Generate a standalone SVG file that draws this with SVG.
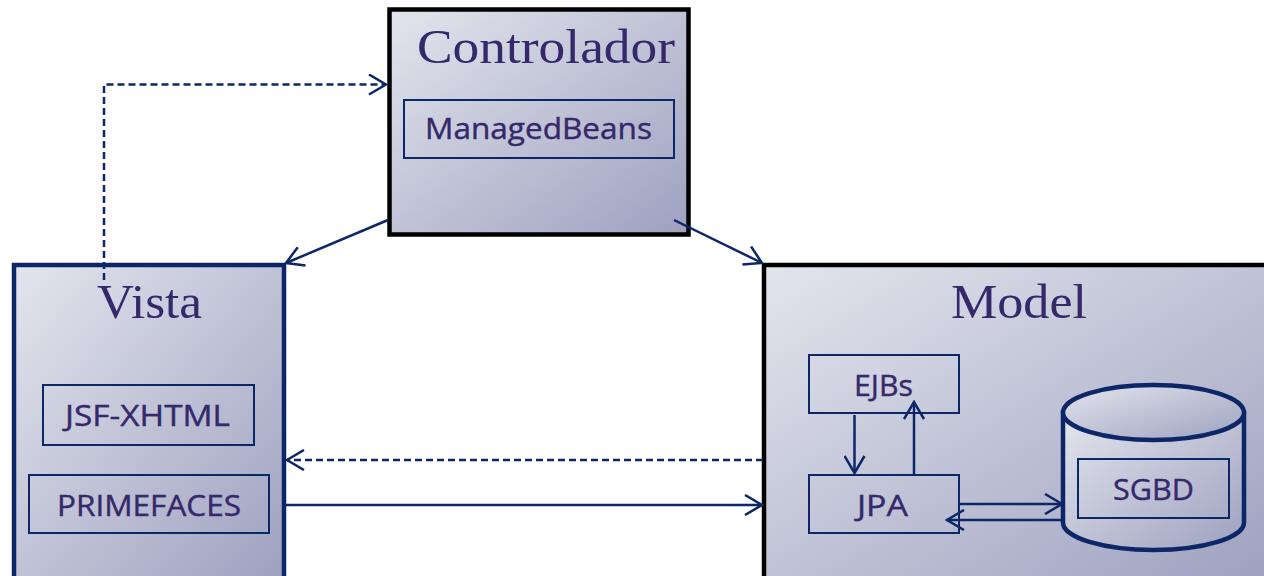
<svg xmlns="http://www.w3.org/2000/svg" width="1264" height="576" viewBox="0 0 1264 576">
<defs>
<linearGradient id="g" x1="0" y1="0" x2="1" y2="1">
<stop offset="0" stop-color="#e3e5ed"/>
<stop offset="1" stop-color="#9da1bf"/>
</linearGradient>
<marker id="ah" viewBox="0 0 20 22" refX="18" refY="11" markerWidth="20" markerHeight="22" markerUnits="userSpaceOnUse" orient="auto">
<path d="M1,1 L18,11 L1,21" fill="none" stroke="#0d2668" stroke-width="2.5"/>
</marker>
<style>
.title{font-family:"Liberation Serif",serif;font-size:48px;fill:#35286b}
.lbl{font-family:"Open Sans","Liberation Sans",sans-serif;font-size:29px;fill:#35286b;stroke:#35286b;stroke-width:0.4}
.inner{fill:none;stroke:#0d2668;stroke-width:2}
.c{fill:none;stroke:#0d2668;stroke-width:2.5}
.d{stroke-dasharray:7,4}
</style>
</defs>
<g id="controlador">
<rect x="389.5" y="9.5" width="299" height="225" fill="url(#g)" stroke="#000" stroke-width="4.5"/>
<text class="title" x="417" y="63" textLength="258" lengthAdjust="spacingAndGlyphs">Controlador</text>
<rect class="inner" x="404" y="100" width="270" height="58"/>
<text class="lbl" x="425" y="139" textLength="227" lengthAdjust="spacingAndGlyphs">ManagedBeans</text>
</g>
<g id="vista">
<rect x="14" y="265" width="270" height="318" fill="url(#g)" stroke="#0d2668" stroke-width="4.5"/>
<text class="title" x="97" y="318" textLength="105" lengthAdjust="spacingAndGlyphs">Vista</text>
<rect class="inner" x="43" y="385" width="211" height="60"/>
<text class="lbl" x="65" y="426" textLength="165" lengthAdjust="spacingAndGlyphs">JSF-XHTML</text>
<rect class="inner" x="29" y="475" width="240" height="58"/>
<text class="lbl" x="57" y="516" textLength="184" lengthAdjust="spacingAndGlyphs">PRIMEFACES</text>
</g>
<g id="model">
<rect x="764" y="265" width="510" height="318" fill="url(#g)" stroke="#000" stroke-width="4.5"/>
<text class="title" x="951" y="318" textLength="136" lengthAdjust="spacingAndGlyphs">Model</text>
</g>
<g id="ejbs">
<rect class="inner" x="809" y="355" width="150" height="58"/>
<text class="lbl" x="854" y="396" textLength="59" lengthAdjust="spacingAndGlyphs">EJBs</text>
</g>
<g id="jpa">
<rect class="inner" x="809" y="475" width="150" height="58"/>
<text class="lbl" x="857" y="516" textLength="51" lengthAdjust="spacingAndGlyphs">JPA</text>
</g>
<g id="sgbd">
<path d="M1063,412.5 L1063,522.5 A90.5,27.5 0 0 0 1244,522.5 L1244,412.5 Z" fill="url(#g)" stroke="#0d2668" stroke-width="4.5"/>
<ellipse cx="1153.5" cy="412.5" rx="90.5" ry="27.5" fill="url(#g)" stroke="#0d2668" stroke-width="4.5"/>
<rect class="inner" x="1078" y="459" width="151" height="59"/>
<text class="lbl" x="1113" y="500" textLength="81" lengthAdjust="spacingAndGlyphs">SGBD</text>
</g>
<g id="connectors">
<path class="c d" d="M104,280 L104,84.5 L386,84.5" marker-end="url(#ah)"/>
<path class="c" d="M388,220 L286,263" marker-end="url(#ah)"/>
<path class="c" d="M674,220 L762,263" marker-end="url(#ah)"/>
<path class="c d" d="M763,460 L287,460" marker-end="url(#ah)"/>
<path class="c" d="M286,505 L762,505" marker-end="url(#ah)"/>
<path class="c" d="M854.5,415 L854.5,473" marker-end="url(#ah)"/>
<path class="c" d="M914,475 L914,402" marker-end="url(#ah)"/>
<path class="c" d="M959,504 L1062,504" marker-end="url(#ah)"/>
<path class="c" d="M1063,520 L947,520" marker-end="url(#ah)"/>
</g>
</svg>
